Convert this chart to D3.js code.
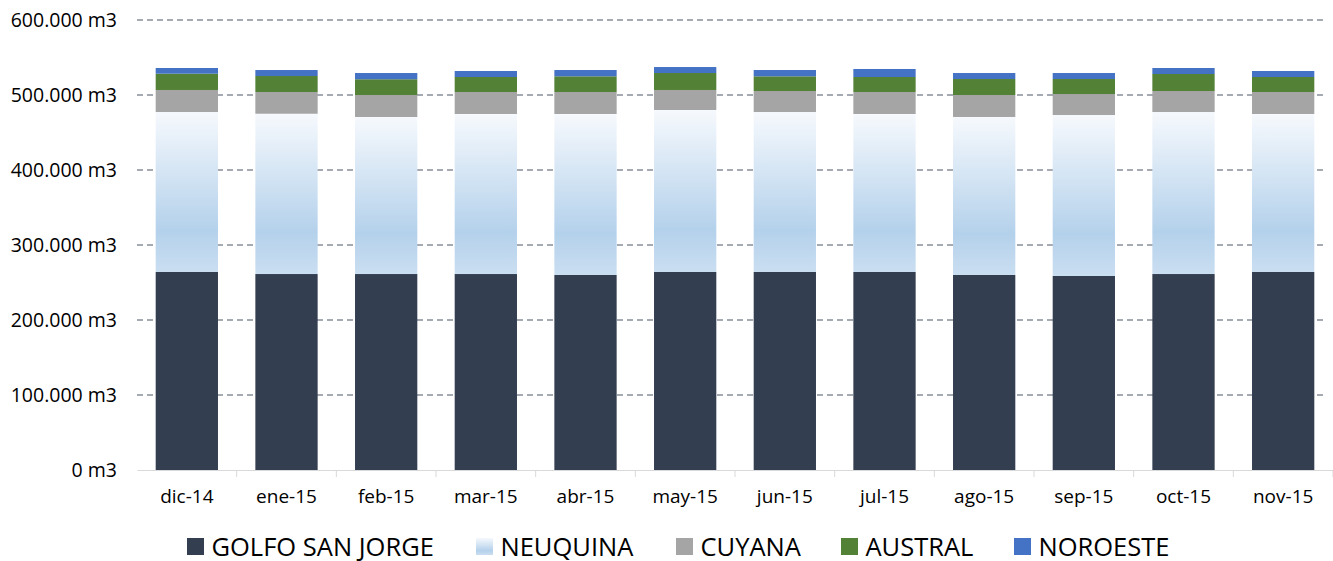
<!DOCTYPE html>
<html>
<head>
<meta charset="utf-8">
<script src="https://cdn.jsdelivr.net/npm/d3@7"></script>
<style>
  body { margin: 0; background: #fff; }
  svg text { font-family: "Open Sans", sans-serif; fill: #000; }
</style>
</head>
<body>
<div id="chart"></div>
<script>
// data (m3 por mes)
const months = ['dic-14','ene-15','feb-15','mar-15','abr-15','may-15','jun-15','jul-15','ago-15','sep-15','oct-15','nov-15'];
const golfoSanJorge = [264000, 261300, 261300, 261300, 260000, 264000, 264000, 264000, 260000, 258700, 261300, 264000];
const neuquina      = [213300, 213700, 209400, 213400, 214700, 216000, 213300, 210700, 210700, 214600, 216000, 210700];
const cuyana        = [29400, 29000, 29300, 29300, 29300, 26700, 28000, 29300, 29300, 28000, 28000, 29300];
const austral       = [21700, 21300, 21000, 20000, 20900, 22600, 19600, 20000, 21300, 20000, 22700, 20000];
const noroeste      = [7600, 8000, 8300, 8000, 8400, 8000, 8400, 10700, 8000, 8000, 8000, 8000];
const seriesNames = ['GOLFO SAN JORGE', 'NEUQUINA', 'CUYANA', 'AUSTRAL', 'NOROESTE'];
const yTicks = [0, 100000, 200000, 300000, 400000, 500000, 600000];

const W = 1333, H = 561;
const margin = { top: 20, right: 0, bottom: 91, left: 137 };

const colors = {
    'GOLFO SAN JORGE': '#333e51',
    'NEUQUINA': 'url(#neuGrad)',
    'CUYANA': '#a5a5a5',
    'AUSTRAL': '#538135',
    'NOROESTE': '#4472c4'
};

const table = months.map((m, i) => ({
    month: m,
    'GOLFO SAN JORGE': golfoSanJorge[i],
    'NEUQUINA': neuquina[i],
    'CUYANA': cuyana[i],
    'AUSTRAL': austral[i],
    'NOROESTE': noroeste[i]
}));

const svg = d3.select('#chart').append('svg')
    .attr('width', W).attr('height', H);

// gradient for neuquina
const grad = svg.append('defs').append('linearGradient')
    .attr('id', 'neuGrad')
    .attr('x1', 0).attr('y1', 0).attr('x2', 0).attr('y2', 1);
grad.append('stop').attr('offset', 0).attr('stop-color', '#f6f9fd');
grad.append('stop').attr('offset', 0.74).attr('stop-color', '#b4d1eb');
grad.append('stop').attr('offset', 1).attr('stop-color', '#cadef1');

const x = d3.scaleBand()
    .domain(months)
    .range([margin.left, W - margin.right])
    .paddingInner(0.375)
    .paddingOuter(0.1875);

const y = d3.scaleLinear()
    .domain([0, 600000])
    .range([H - margin.bottom, margin.top]);

const fmt = v => d3.format(',')(v).replace(/,/g, '.') + ' m3';

// grid lines
svg.append('g')
    .selectAll('line')
    .data(yTicks.filter(d => d > 0))
    .enter().append('line')
    .attr('x1', margin.left).attr('x2', 1323)
    .attr('y1', d => y(d)).attr('y2', d => y(d))
    .attr('stroke', '#4b5466')
    .attr('stroke-width', 1)
    .attr('stroke-dasharray', '6,4');

// y axis labels
svg.append('g')
    .selectAll('text')
    .data(yTicks)
    .enter().append('text')
    .attr('x', 117)
    .attr('y', d => y(d))
    .attr('dy', '0.35em')
    .attr('text-anchor', 'end')
    .style('font-size', '19.5px')
    .text(fmt);

// stacked bars
const stack = d3.stack().keys(seriesNames)(table);

svg.append('g')
    .selectAll('g')
    .data(stack)
    .enter().append('g')
    .attr('fill', d => colors[d.key])
    .selectAll('rect')
    .data(d => d)
    .enter().append('rect')
    .attr('x', d => x(d.data.month))
    .attr('width', x.bandwidth())
    .attr('y', d => y(d[1]))
    .attr('height', d => y(d[0]) - y(d[1]));

// x axis
const xAxis = svg.append('g')
    .attr('transform', 'translate(0,' + y(0) + ')')
    .call(d3.axisBottom(x).tickSize(0).tickPadding(20));
xAxis.select('.domain').attr('stroke', '#d9d9d9');
xAxis.selectAll('text')
    .style('font-size', '19px')
    .style('font-family', '"Open Sans", sans-serif')
    .attr('fill', '#000');

// tick marks between categories
xAxis.selectAll('.sep')
    .data(months.slice(1).concat(['end']))
    .enter().append('line')
    .attr('class', 'sep')
    .attr('x1', (d, i) => margin.left + x.step() * (i + 1))
    .attr('x2', (d, i) => margin.left + x.step() * (i + 1))
    .attr('y1', 0).attr('y2', 7)
    .attr('stroke', '#d9d9d9');

// legend
const legendX = [187, 476, 676, 841, 1014];
const legend = svg.append('g')
    .selectAll('g')
    .data(seriesNames)
    .enter().append('g')
    .attr('transform', (d, i) => 'translate(' + legendX[i] + ',538)');

legend.append('rect')
    .attr('width', 17).attr('height', 17)
    .attr('fill', d => colors[d]);

legend.append('text')
    .attr('x', 24.5)
    .attr('y', 17.5)
    .style('font-size', '25.5px')
    .text(d => d);
</script>
</body>
</html>
